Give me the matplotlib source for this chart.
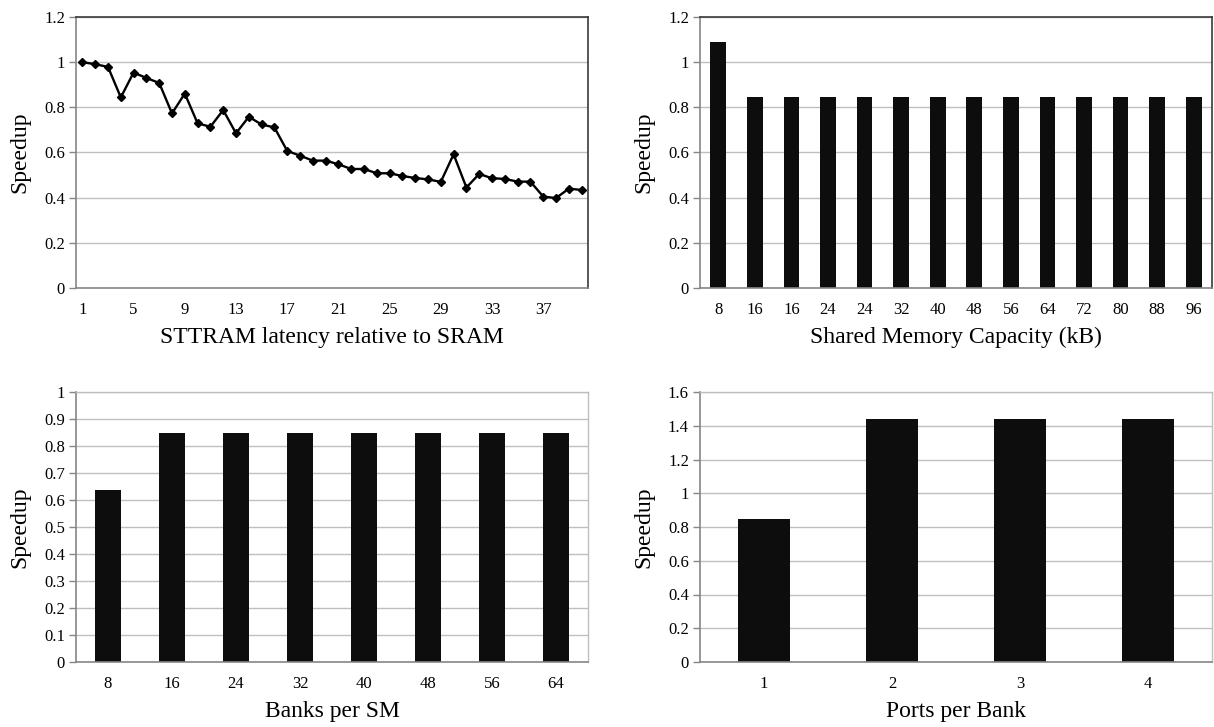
import matplotlib
matplotlib.use("Agg")
import matplotlib.pyplot as plt

plt.rcParams['font.family'] = ['Liberation Serif', 'DejaVu Serif']

# STTRAM latency sweep (relative latency 1..40)
latency = list(range(1, 41))
latency_speedup = [1.000, 0.991, 0.979, 0.844, 0.954, 0.930, 0.908, 0.773, 0.861, 0.729,
                   0.714, 0.788, 0.685, 0.758, 0.724, 0.711, 0.607, 0.586, 0.564, 0.564,
                   0.548, 0.527, 0.527, 0.508, 0.508, 0.496, 0.487, 0.481, 0.470, 0.592,
                   0.445, 0.505, 0.486, 0.483, 0.471, 0.471, 0.405, 0.398, 0.440, 0.434]

# shared memory capacity sweep
capacity = ['8', '16', '16', '24', '24', '32', '40', '48', '56', '64', '72', '80', '88', '96']
capacity_speedup = [1.088] + [0.846] * 13

# banks per SM
banks = ['8', '16', '24', '32', '40', '48', '56', '64']
banks_speedup = [0.637, 0.847, 0.847, 0.847, 0.847, 0.847, 0.847, 0.847]

# ports per bank
ports = ['1', '2', '3', '4']
ports_speedup = [0.846, 1.44, 1.44, 1.44]

BAR = '#0d0d0d'
GRID = '#bfbfbf'
AXIS = '#868686'

W, H = 1214, 727
fig = plt.figure(figsize=(W / 100, H / 100), dpi=100)


def rect(l, r, t, b):
    return [l / W, 1 - b / H, (r - l) / W, (b - t) / H]


def style(ax, ymax, step, dark_frame):
    ax.set_ylim(0, ymax)
    ticks = [round(i * step, 2) for i in range(int(round(ymax / step)) + 1)]
    ax.set_yticks(ticks)
    ax.set_yticklabels(['%g' % t for t in ticks])
    ax.yaxis.grid(True, color=GRID, linewidth=1.0)
    ax.set_axisbelow(True)
    frame = '#3a3a3a' if dark_frame else GRID
    for side in ('top', 'right'):
        ax.spines[side].set_color(frame)
        ax.spines[side].set_linewidth(1.2 if dark_frame else 1.0)
    for side in ('left', 'bottom'):
        ax.spines[side].set_color(AXIS)
        ax.spines[side].set_linewidth(1.2)
    ax.tick_params(axis='y', length=5, color=AXIS, width=1, labelsize=12, pad=3)
    ax.tick_params(axis='x', length=0, labelsize=12, pad=10)
    ax.set_ylabel('Speedup', fontsize=17)
    ax.yaxis.set_label_coords(-56 / 512, 0.5)
    ax.yaxis.label.set_va('center')


def bars(ax, cats, vals, width):
    x = list(range(len(cats)))
    ax.bar(x, vals, width=width, color=BAR, zorder=2)
    ax.set_xticks(x)
    ax.set_xticklabels(cats)
    ax.set_xlim(-0.5, len(cats) - 0.5)


# latency line chart
ax1 = fig.add_axes(rect(76, 588, 17, 288))
pos = list(range(len(latency)))
ax1.plot(pos, latency_speedup, color='black', linewidth=1.7, marker='D', markersize=4.2, zorder=3)
ax1.set_xlim(-0.5, len(latency) - 0.5)
ax1.set_xticks(pos[::4])
ax1.set_xticklabels([str(v) for v in latency[::4]])
style(ax1, 1.2, 0.2, True)
ax1.set_xlabel('STTRAM latency relative to SRAM', fontsize=17)
ax1.xaxis.set_label_coords(0.5, -0.145)

# capacity bars
ax2 = fig.add_axes(rect(700, 1212, 17, 288))
bars(ax2, capacity, capacity_speedup, 0.43)
style(ax2, 1.2, 0.2, True)
ax2.set_xlabel('Shared Memory Capacity (kB)', fontsize=17)
ax2.xaxis.set_label_coords(0.5, -0.145)

# banks bars
ax3 = fig.add_axes(rect(76, 588, 392, 662))
bars(ax3, banks, banks_speedup, 0.40)
style(ax3, 1.0, 0.1, False)
ax3.set_xlabel('Banks per SM', fontsize=17)
ax3.xaxis.set_label_coords(0.5, -0.145)

# ports bars
ax4 = fig.add_axes(rect(700, 1212, 392, 662))
bars(ax4, ports, ports_speedup, 0.41)
style(ax4, 1.6, 0.2, False)
ax4.set_xlabel('Ports per Bank', fontsize=17)
ax4.xaxis.set_label_coords(0.5, -0.145)

fig.savefig('out.png', dpi=100)
